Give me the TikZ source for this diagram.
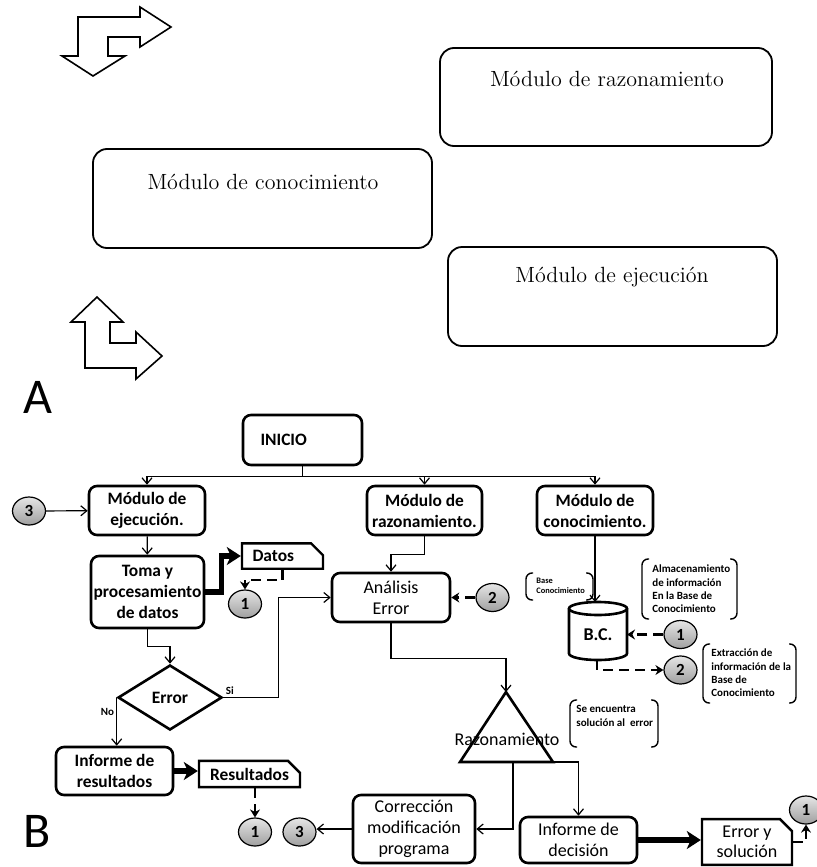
\documentclass[tikz,border=0pt]{standalone}
\usepackage{fontspec}
\newfontfamily\calibri{Carlito}
\usetikzlibrary{arrows.meta,shapes.geometric,shapes.misc}

% bracket pair around the small notes
\newcommand{\notebrackets}[4]{%
  \draw[line width=0.7pt,rounded corners=3pt] (#1+7,#2) -- (#1,#2) -- (#1,#4) -- (#1+7,#4);
  \draw[line width=0.7pt,rounded corners=3pt] (#3-7,#2) -- (#3,#2) -- (#3,#4) -- (#3-7,#4);}

\begin{document}
\begin{tikzpicture}[x=0.5pt,y=-0.5pt,
  >={Straight Barb[length=3pt,width=5pt]},
  modbox/.style={draw,line width=0.9pt,rounded corners=7pt},
  modtxt/.style={font=\fontsize{11}{13}\selectfont},
  flow/.style={draw,line width=1.3pt,rounded corners=4pt,align=center,inner sep=1pt,
    font=\calibri\bfseries\fontsize{8.7}{10.5}\selectfont},
  flowreg/.style={flow,font=\calibri\fontsize{9}{10.5}\selectfont},
  tag/.style={draw,line width=1.2pt,chamfered rectangle,chamfered rectangle corners=north east,
    chamfered rectangle xsep=3pt,chamfered rectangle ysep=3pt,inner sep=0.5pt,align=center,
    font=\calibri\bfseries\fontsize{8.7}{10}\selectfont},
  ball/.style={ellipse,draw,line width=0.6pt,minimum width=16.5pt,minimum height=14pt,inner sep=0pt,
    top color=gray!20,bottom color=gray!75,font=\calibri\bfseries\fontsize{8.5}{9}\selectfont},
  conn/.style={line width=0.6pt},
  fat/.style={line width=2.6pt,-{Stealth[length=7pt,width=9pt,inset=2pt]}},
  dashlink/.style={line width=1.2pt,dash pattern=on 5pt off 3pt,-{Stealth[length=4pt,width=5pt]}},
  note/.style={font=\calibri\bfseries\fontsize{5.5}{6.7}\selectfont,align=left,inner sep=0pt},
  tiny/.style={font=\calibri\bfseries\fontsize{5.5}{6}\selectfont,inner sep=1pt}]

\useasboundingbox (0,0) rectangle (817,867);

% A
\draw[line width=0.8pt] (78,17) -- (140,17) -- (140,7) -- (171,27) -- (140,47) -- (140,37) -- (108,37)
  -- (108,56) -- (125,56) -- (93,76) -- (62,56) -- (78,56) -- cycle;
\draw[line width=0.8pt] (97,297) -- (123,322) -- (110,322) -- (110,343) -- (136,343) -- (136,332)
  -- (162,356) -- (136,379) -- (136,368) -- (85,368) -- (85,322) -- (71,322) -- cycle;

\draw[modbox] (440,48) rectangle (772,146);
\node[modtxt] (razA) at (607,79) {Módulo de razonamiento};
\draw[modbox] (93,149) rectangle (432,248);
\node[modtxt] (conA) at (263,182) {Módulo de conocimiento};
\draw[modbox] (448,247) rectangle (777,346);
\node[modtxt] (ejeA) at (612,277) {Módulo de ejecución};

\node[font=\calibri\fontsize{25}{25}\selectfont] (labA) at (38,397) {A};
\node[font=\calibri\fontsize{25}{25}\selectfont] (labB) at (37,831) {B};

% B
\node[flow,minimum width=59.5pt,minimum height=25pt,text width=42pt,align=left] (inicio) at (302.5,440) {INICIO};
\node[flow,minimum width=58pt,minimum height=24.5pt] (ejec) at (147,510.5) {Módulo de\\ejecución.};
\node[flow,minimum width=57.5pt,minimum height=24.5pt] (razon) at (424.5,510.5) {Módulo de\\razonamiento.};
\node[flow,minimum width=58pt,minimum height=24.5pt] (conoc) at (595,510.5) {Módulo de\\conocimiento.};
\node[flow,minimum width=56.5pt,minimum height=36pt] (toma) at (147.5,592) {Toma y\\procesamiento\\de datos};
\node[tag,minimum width=40.5pt,minimum height=10pt,text width=30pt,align=left] (datos) at (282.5,556) {Datos};
\node[flowreg,minimum width=59pt,minimum height=24.5pt] (anal) at (391,597.5) {Análisis\\Error};
\node[diamond,draw,line width=1.3pt,minimum width=52pt,minimum height=32.5pt,inner sep=0pt,
  font=\calibri\bfseries\fontsize{8.7}{10}\selectfont] (err) at (170,697.5) {Error};
\node[flow,minimum width=58.5pt,minimum height=24pt] (infres) at (114.5,771) {Informe de\\resultados};
\node[tag,minimum width=50.5pt,minimum height=11pt] (resul) at (249.5,774) {Resultados};
\node[flowreg,minimum width=61pt,minimum height=34pt] (corr) at (414,829) {Corrección\\modificación\\programa};
\node[flowreg,minimum width=58.5pt,minimum height=23pt] (infdec) at (578.5,840) {Informe de\\decisión};
\node[tag,minimum width=45pt,minimum height=20pt,font=\calibri\fontsize{9}{10}\selectfont] (errsol) at (747,842) {Error y\\solución};

\coordinate (triT) at (506,692);
\coordinate (triL) at (460,762);
\coordinate (triR) at (553,762);
\coordinate (triB) at (513,762);
\draw[line width=1.3pt] (triT) -- (triR) -- (triL) -- cycle;
\node[font=\calibri\fontsize{9}{10}\selectfont,inner sep=0pt] (razt) at (507,739) {Razonamiento};

% base de conocimiento
\draw[line width=1.3pt] (598,608.5) ellipse [x radius=14.5pt,y radius=3.25pt];
\draw[line width=1.3pt] (569,608.5) -- (569,653.5) arc [start angle=180,end angle=360,x radius=14.5pt,y radius=3.25pt] -- (627,608.5);
\node[font=\calibri\bfseries\fontsize{9}{10}\selectfont] (bc) at (598,635) {B.C.};
\coordinate (bctop) at (598,602);
\coordinate (bcright) at (627,634.5);
\coordinate (bcbot) at (597,660);

\node[ball] (ball3a) at (29,511) {3};
\node[ball] (ball1a) at (245,604) {1};
\node[ball] (ball2a) at (492.5,597.5) {2};
\node[ball] (ball1d) at (680.5,634.5) {1};
\node[ball] (ball2b) at (680.5,670) {2};
\node[ball] (ball1b) at (255,832) {1};
\node[ball] (ball3b) at (299.5,832) {3};
\node[ball] (ball1c) at (806,810) {1};

\draw[conn] (inicio.south) -- ++(0,10) coordinate (bus);
\draw[conn,->] (bus) -| (ejec.north);
\draw[conn,->] (bus) -| (razon.north);
\draw[conn,->] (bus) -| (conoc.north);

\draw[conn,->] (ball3a) -- (ejec);
\draw[conn,->] (ejec) -- (toma);
\draw[fat] (toma.east) -- ++(16,0) |- (datos.west);
\draw[dashlink] (datos.south) -- ++(0,10) -| (ball1a.north);
\draw[conn,->] (razon.south) -- ++(0,18) -| (anal.north);
\draw[dashlink] (ball2a.west) -- (anal.east);
\draw[conn,->] (toma.south) -- ++(0,17) -| (err.north);
\draw[conn,->] (err.east) node[above right,tiny] {Si} -- ++(55,0) |- (anal.west);
\draw[conn,->] (err.west) -- (err.west |- infres.north) node[pos=0.3,left,tiny] {No};
\draw[fat] (infres.east) -- (infres.east -| resul.west);
\draw[dashlink] (ball1b.north |- resul.south) -- (ball1b.north);
\draw[conn,->] (corr.west) -- (corr.west -| ball3b.east);
\draw[conn,->] (anal.south) -- ++(0,35) -| (triT);
\draw[conn,->] (triB) |- (corr.east);
\draw[conn,->] (triR) -| (infdec.north);
\draw[fat] (infdec.east) -- (infdec.east -| errsol.west);
\draw[dashlink] (errsol.east) -| (ball1c.south);
\draw[conn,->] (conoc.south) -- (conoc.south |- bctop);
\draw[dashlink] (ball1d.west) -- (ball1d.west -| bcright);
\draw[dashlink] (bcbot) |- (ball2b.west);

% notas
\notebrackets{526}{573}{593}{600}
\node[note,font=\calibri\bfseries\fontsize{4.2}{5}\selectfont,anchor=west] (nbase) at (536,586) {Base\\Conocimiento};
\notebrackets{642}{559}{737}{619}
\node[note,anchor=west] (nalm) at (652,589) {Almacenamiento\\de información\\En la Base de\\Conocimiento};
\notebrackets{703}{644}{796}{703}
\node[note,anchor=west] (next) at (711,673) {Extracción de\\información de la\\Base de\\Conocimiento};
\notebrackets{570}{700}{658}{747}
\node[note,anchor=west] (nsol) at (576,716) {Se encuentra\\solución al\ \ error};

\end{tikzpicture}
\end{document}
